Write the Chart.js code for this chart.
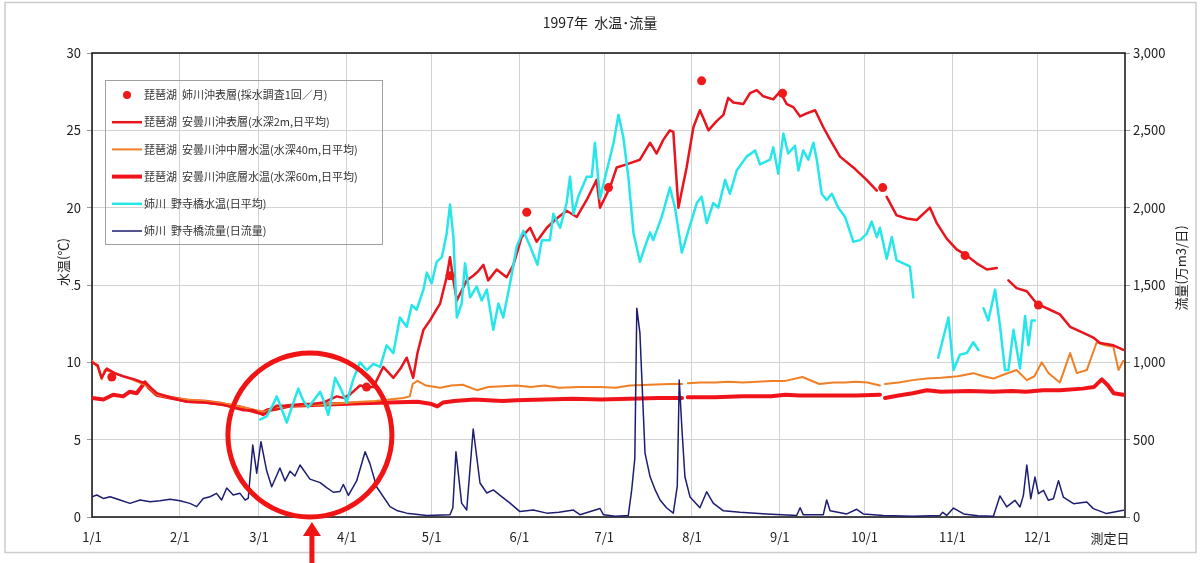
<!DOCTYPE html>
<html lang="ja">
<head>
<meta charset="utf-8">
<title>1997年 水温・流量</title>
<script src="https://cdn.jsdelivr.net/npm/chart.js@4.4.1/dist/chart.umd.min.js"></script>
<style>
  html, body { margin: 0; padding: 0; background: #fff; }
  #wrap { width: 1200px; height: 563px; }
</style>
</head>
<body>
<div id="wrap"><canvas id="waterChart" width="1200" height="563"></canvas></div>
<script>
// 1997年 水温・流量 (琵琶湖 / 姉川)
// x values are day of year, 0 = 1/1

const monthStarts = [0, 31, 59, 90, 120, 151, 181, 212, 243, 273, 304, 334];
const monthLabels = ['1/1', '2/1', '3/1', '4/1', '5/1', '6/1', '7/1', '8/1', '9/1', '10/1', '11/1', '12/1'];
const tempTicks = [0, 5, 10, 15, 20, 25, 30];
const flowTicks = [0, 500, 1000, 1500, 2000, 2500, 3000];

// 琵琶湖 姉川沖表層 (monthly sampling) [day, °C]
const anegawaOkiSurface = [
    [7, 9.05], [97, 8.4], [126.5, 15.6], [153.6, 19.7], [182.5, 21.3],
    [215.4, 28.2], [244, 27.4], [279.4, 21.3], [308.5, 16.9], [334.4, 13.7]
];

// 安曇川沖 水深2m [day, °C]
const adoSurface = [
    [0, 10.0], [2, 9.8], [3.4, 9.0], [5.2, 9.6], [8, 9.3], [11, 9.1], [15, 8.9], [19.3, 8.6], [22.9, 8.0],
    [28, 7.7], [33.5, 7.45], [40, 7.4], [46.4, 7.25], [53.5, 6.9], [57, 6.9], [60.5, 6.6], [63, 6.9],
    [65.3, 7.2], [70, 7.2], [74.7, 7.3], [78, 7.3], [81.7, 7.4], [86.5, 7.8], [88.8, 7.7], [91, 7.9],
    [94.7, 8.5], [97.1, 8.4], [99.4, 8.4], [102.9, 9.7], [106.5, 9.0], [109, 9.6], [111.2, 10.3],
    [113.5, 9.0], [115, 10.6], [117.1, 12.1], [119.4, 12.7], [121, 13.2], [123, 13.8], [125.3, 15.5],
    [126.5, 16.8], [127.7, 15.3], [128.9, 14.0], [130.5, 14.6], [132.4, 15.3], [134.7, 15.6],
    [136.5, 15.9], [138.3, 16.3], [140, 15.3], [143, 16.0], [146.5, 15.5], [148.9, 16.3], [151.8, 18.1],
    [154.8, 18.7], [157.1, 17.8], [160.7, 18.7], [164.2, 19.3], [167.7, 19.8], [171.3, 19.4],
    [174.8, 20.5], [178.3, 21.8], [179.5, 20.0], [183, 21.3], [185.4, 22.6], [188.9, 22.8],
    [193.6, 23.1], [197.2, 24.2], [199.5, 23.5], [201.9, 24.4], [204.2, 25.0], [205.4, 24.9],
    [207.2, 20.0], [210.1, 22.6], [212.5, 25.2], [214.8, 26.3], [216, 25.8], [217.8, 25.0],
    [220.7, 25.6], [223.1, 26.0], [224.8, 27.1], [226.6, 26.8], [230.1, 26.7], [232.5, 27.4],
    [234.9, 27.6], [237.2, 27.2], [240.7, 27.0], [243.1, 27.5], [245.5, 26.7], [247.8, 26.5],
    [250.2, 25.9], [252.5, 26.1], [255.5, 26.3], [258.4, 25.2], [260.8, 24.4], [264.3, 23.3],
    [269, 22.6], [273.7, 21.8], [277.3, 21.1], [279, null], [280.8, 20.7], [284.3, 19.5],
    [287.9, 19.3], [291.4, 19.2], [296.1, 20.0], [298.5, 19.0], [302, 18.0], [305.5, 17.3],
    [309.1, 16.9], [312.6, 16.4], [316.2, 16.0], [319.7, 16.1], [321.5, null], [323.8, 15.3],
    [326.7, 14.8], [330.3, 14.6], [333.8, 13.8], [338.5, 13.4], [342, 13.1], [345.6, 12.3],
    [350.3, 11.9], [353.8, 11.6], [356.2, 11.25], [360.9, 11.1], [364.4, 10.8]
];

// 安曇川沖 水深40m [day, °C]
const adoMiddle = [
    [0, 10.1], [2, 9.7], [3.4, 8.9], [4.5, 9.5], [8, 9.3], [14, 8.9], [19.3, 8.5], [23, 7.9], [28, 7.7],
    [33.5, 7.6], [40, 7.5], [46, 7.35], [53.5, 7.1], [58, 6.9], [61, 6.8], [65, 7.1], [70, 7.2],
    [80, 7.25], [88, 7.35], [95, 7.45], [100, 7.5], [105, 7.6], [110, 7.7], [112.3, 7.8], [113.3, 8.6],
    [115, 8.8], [118, 8.5], [123, 8.35], [127, 8.5], [131, 8.55], [136, 8.2], [140, 8.4], [145, 8.45],
    [150, 8.5], [155, 8.4], [160, 8.5], [165, 8.35], [172, 8.4], [179.5, 8.4], [185, 8.35], [190, 8.5],
    [197, 8.55], [204, 8.6], [208.5, 8.6], [209.5, null], [210.5, 8.65], [215, 8.7], [220, 8.7],
    [225, 8.75], [230, 8.7], [235, 8.75], [240, 8.8], [245, 8.8], [251, 9.05], [257, 8.6], [262, 8.7],
    [266, 8.7], [270, 8.75], [274, 8.7], [278.4, 8.5], [279.3, null], [280.2, 8.6], [285, 8.7],
    [290, 8.85], [294.9, 8.95], [300, 9.0], [306, 9.1], [311.4, 9.3], [315, 9.1], [318.5, 8.95],
    [322, 9.2], [326.7, 9.5], [330.3, 8.85], [333, 9.1], [335.6, 10.0], [338, 9.3], [342, 8.7],
    [345.6, 10.6], [348, 9.3], [351.5, 9.5], [355, 11.3], [358, 11.1], [360.9, 11.0], [362.7, 9.5],
    [364.4, 10.1]
];

// 安曇川沖 水深60m [day, °C]
const adoBottom = [
    [0, 7.7], [4, 7.6], [7.5, 7.9], [11, 7.8], [13.4, 8.1], [15.8, 8.0], [17, 8.3], [18.7, 8.7],
    [20.5, 8.3], [22.9, 7.9], [28, 7.7], [34, 7.5], [40, 7.45], [46, 7.3], [52, 7.1], [57, 6.85],
    [60, 6.7], [62, 6.9], [65, 7.0], [70, 7.2], [80, 7.25], [88, 7.3], [95, 7.35], [105, 7.4],
    [115, 7.45], [120, 7.3], [122, 7.15], [124, 7.4], [128, 7.5], [135, 7.6], [145, 7.5], [150, 7.55],
    [160, 7.6], [170, 7.65], [180, 7.6], [190, 7.65], [200, 7.7], [208.5, 7.7], [209.5, null],
    [210.5, 7.75], [220, 7.75], [230, 7.8], [240, 7.8], [245, 7.9], [250, 7.85], [260, 7.85],
    [270, 7.85], [278.4, 7.9], [279.3, null], [280.2, 7.7], [285, 7.85], [290, 8.0], [295, 8.2],
    [300, 8.1], [310, 8.15], [318.5, 8.1], [325, 8.15], [330, 8.1], [336, 8.2], [342, 8.2],
    [350, 8.3], [354, 8.4], [356.8, 8.9], [359, 8.5], [361, 8.0], [364.4, 7.9]
];

// 姉川 野寺橋 水温 [day, °C]
const nojiTemp = [
    [59.4, 6.3], [61.7, 6.5], [63.5, 7.1], [65.3, 7.8], [67, 7.0], [68.8, 6.1], [70.6, 7.1], [72.9, 8.3],
    [74.7, 7.5], [76.4, 7.1], [78.2, 7.5], [80.6, 8.1], [81.7, 7.6], [83.5, 6.6], [85.9, 9.0],
    [87.6, 8.4], [90, 7.4], [92.3, 8.9], [94.7, 10.0], [97.1, 9.5], [99.4, 9.9], [101.8, 9.7],
    [104.1, 11.1], [106.5, 10.6], [108.8, 12.9], [111.2, 12.3], [113, 13.7], [114.7, 13.4],
    [117.1, 14.7], [118.3, 15.8], [120, 15.1], [121.8, 16.5], [123.6, 16.8], [125.3, 18.3],
    [126.5, 20.2], [127.7, 18.1], [128.9, 12.9], [130.6, 13.8], [131.8, 16.4], [133.6, 14.2],
    [135.9, 14.9], [137.7, 14.0], [139.5, 14.7], [141.8, 12.1], [143.6, 13.8], [145.3, 12.9],
    [147.7, 15.1], [150.1, 17.5], [152.4, 18.5], [154.8, 17.5], [157.4, 16.3], [158.9, 17.9],
    [161.8, 17.9], [163, 19.6], [165.4, 18.7], [167.7, 20.3], [168.9, 22.0], [170.1, 19.6],
    [171.8, 20.7], [174.8, 22.0], [176.6, 22.0], [177.7, 24.2], [179.5, 20.6], [181.9, 22.4],
    [184.3, 24.2], [186, 26.0], [187.7, 24.6], [189.5, 22.0], [191.3, 18.4], [193.6, 16.5],
    [195.4, 17.5], [197.2, 18.4], [198.3, 17.9], [201.3, 19.4], [204.2, 21.3], [206, 20.0],
    [208.4, 17.1], [210.7, 18.5], [213.7, 20.3], [215.4, 20.7], [217.2, 19.0], [219.5, 20.3],
    [221.3, 20.0], [223.7, 21.8], [225.4, 20.9], [227.8, 22.4], [231.3, 23.3], [234.3, 23.7],
    [236, 22.8], [239.6, 23.1], [240.7, 23.9], [242.5, 22.2], [244.3, 24.8], [246, 23.5],
    [248.4, 24.0], [249.6, 22.4], [251.3, 23.7], [253.1, 23.1], [254.9, 24.2], [256.1, 23.1],
    [257.8, 20.9], [259.6, 20.5], [261.4, 20.9], [263.7, 20.0], [266.1, 19.4], [269, 17.8],
    [271.4, 17.9], [273.7, 18.3], [275.5, 19.1], [277.3, 18.1], [278.4, 18.7], [280.8, 16.7],
    [282.6, 18.1], [284.3, 16.6], [286.7, 16.4], [289, 16.2], [290.2, 14.2], [295, null],
    [299, 10.3], [302.6, 12.9], [304.4, 9.5], [306.7, 10.5], [309.1, 10.6], [311.4, 11.3],
    [313.2, 10.8], [314, null], [315, 13.5], [316.7, 12.7], [319.1, 14.7], [320.8, 12.4],
    [322.6, 9.5], [323.8, 9.5], [325.6, 12.1], [327.9, 9.6], [329.7, 13.0], [330.9, 11.1],
    [332, 12.7], [333.2, 12.7]
];

// 姉川 野寺橋 流量 [day, 万m3/日]
const nojiFlow = [
    [0, 131], [1.7, 142], [4, 120], [6.4, 131], [9.9, 110], [13.4, 88], [17, 110], [20.5, 99], [24, 105],
    [27.6, 115], [31.1, 105], [34.6, 88], [37, 67], [39.3, 120], [41.7, 131], [44, 153], [45.8, 110],
    [47.6, 187], [49.9, 142], [52.3, 153], [54.1, 110], [55.2, 120], [56.8, 465], [58.2, 283],
    [59.7, 487], [61.7, 300], [63.5, 196], [66.4, 317], [68.2, 233], [70, 296], [71.7, 265],
    [73.5, 336], [77, 245], [80.6, 222], [82.9, 190], [85.3, 160], [87.6, 165], [88.8, 210],
    [90.6, 140], [93.5, 233], [96.5, 422], [98.2, 345], [100.6, 194], [105.3, 67], [108, 40],
    [111.2, 25], [118.3, 10], [126.5, 15], [127.5, 60], [128.6, 422], [130.6, 90], [132.4, 45],
    [134.7, 569], [137.1, 220], [139.5, 155], [141.8, 175], [144.2, 140], [147.7, 90], [151.2, 35],
    [155.9, 45], [160.7, 25], [165, 30], [170.1, 45], [172.4, 15], [179.5, 55], [180.7, 15], [185, 5],
    [189.5, 10], [190.7, 175], [191.8, 380], [192.5, 1350], [193.6, 1190], [195.4, 413],
    [197.2, 260], [199, 175], [200.7, 110], [203, 60], [205.4, 25], [206.8, 200], [207.5, 885],
    [208.4, 583], [209.5, 260], [211.3, 130], [214.8, 60], [217.2, 163], [219.5, 90], [223.1, 40],
    [229, 30], [238.4, 20], [249, 10], [250.2, 60], [251.3, 15], [258.4, 15], [259.6, 110],
    [260.8, 40], [266.7, 20], [270.2, 50], [272.5, 20], [279.6, 10], [290, 5], [299.6, 10],
    [300.6, 30], [302, 10], [304.4, 58], [308, 20], [313, 8], [318.5, 5], [320.8, 136], [323.2, 65],
    [326.1, 108], [327.9, 65], [329.1, 140], [330.3, 336], [331.7, 118], [333.2, 258], [334.4, 151],
    [336.2, 172], [337.9, 108], [339.7, 118], [341.5, 235], [343.2, 129], [346.8, 86], [351.5, 97],
    [353.8, 54], [358.5, 22], [364.4, 43]
];

// red circle note around March (center in data units)
const noteCenter = { day: 77, temp: 5.3 };

const FONT = "'Noto Sans CJK JP', 'Noto Sans', sans-serif";

function toPoints(pairs) {
    return pairs.map(p => ({ x: p[0], y: p[1] }));
}

function lineSet(label, pairs, color, width, axis) {
    return {
        label: label,
        data: toPoints(pairs),
        borderColor: color,
        backgroundColor: color,
        borderWidth: width,
        pointRadius: 0,
        tension: 0,
        spanGaps: false,
        borderJoinStyle: 'round',
        borderCapStyle: 'round',
        yAxisID: axis || 'y'
    };
}

// draws frame, titles, legend box and the red note
const decorPlugin = {
    id: 'decor',
    beforeDraw(chart) {
        const ctx = chart.ctx;
        ctx.save();
        ctx.fillStyle = '#fff';
        ctx.fillRect(0, 0, chart.width, chart.height);
        ctx.strokeStyle = '#cccccc';
        ctx.lineWidth = 1.5;
        ctx.strokeRect(5, 2.5, 1191, 550);
        ctx.restore();
    },
    beforeDatasetsDraw(chart) {
        const a = chart.chartArea;
        const ctx = chart.ctx;
        ctx.save();
        ctx.strokeStyle = '#111';
        ctx.lineWidth = 1.5;
        ctx.strokeRect(a.left, a.top, a.right - a.left, a.bottom - a.top);
        ctx.restore();
    },
    afterDraw(chart) {
        const ctx = chart.ctx;
        const a = chart.chartArea;
        ctx.save();

        // title
        ctx.fillStyle = '#222';
        ctx.font = '14px ' + FONT;
        ctx.textAlign = 'center';
        ctx.textBaseline = 'middle';
        ctx.fillText('1997年  水温･流量', 600, 23);

        // left axis title (white box hides part of the "15")
        ctx.font = '13px ' + FONT;
        const leftTitle = '水温(℃)';
        const lw = ctx.measureText(leftTitle).width;
        ctx.save();
        ctx.translate(63, 262);
        ctx.rotate(-Math.PI / 2);
        ctx.fillStyle = '#fff';
        ctx.fillRect(-lw / 2 - 4, -9, lw + 8, 18);
        ctx.fillStyle = '#222';
        ctx.fillText(leftTitle, 0, 0);
        ctx.restore();

        // right axis title
        ctx.save();
        ctx.translate(1181, 268);
        ctx.rotate(-Math.PI / 2);
        ctx.fillStyle = '#222';
        ctx.fillText('流量(万m3/日)', 0, 0);
        ctx.restore();

        // x axis name
        ctx.fillStyle = '#222';
        ctx.fillText('測定日', 1110, 538);

        // legend
        const lx = 105, ly = 80, lwBox = 277, lh = 164;
        ctx.strokeStyle = '#a0a0a0';
        ctx.lineWidth = 1;
        ctx.strokeRect(lx + 0.5, ly + 0.5, lwBox, lh);
        ctx.font = '11px ' + FONT;
        ctx.textAlign = 'left';
        chart.data.datasets.forEach((ds, i) => {
            const yy = ly + 15 + i * 27.2;
            if (ds.showLine === false) {
                ctx.fillStyle = ds.pointBackgroundColor;
                ctx.beginPath();
                ctx.arc(127, yy, 4, 0, Math.PI * 2);
                ctx.fill();
            } else {
                ctx.strokeStyle = ds.borderColor;
                ctx.lineWidth = ds.borderWidth;
                ctx.beginPath();
                ctx.moveTo(112, yy);
                ctx.lineTo(142, yy);
                ctx.stroke();
            }
            ctx.fillStyle = '#333';
            ctx.fillText(ds.label, 144, yy);
        });

        // red circle + arrow
        const cx = chart.scales.x.getPixelForValue(noteCenter.day);
        const cy = chart.scales.y.getPixelForValue(noteCenter.temp);
        ctx.strokeStyle = '#f01414';
        ctx.lineWidth = 5;
        ctx.beginPath();
        ctx.arc(cx, cy, 82, 0, Math.PI * 2);
        ctx.stroke();

        ctx.fillStyle = '#f01414';
        ctx.beginPath();
        ctx.moveTo(cx + 2, a.bottom + 5);
        ctx.lineTo(cx + 11, a.bottom + 19);
        ctx.lineTo(cx - 7, a.bottom + 19);
        ctx.closePath();
        ctx.fill();
        ctx.fillRect(cx - 0.5, a.bottom + 18, 5, chart.height - a.bottom - 18);

        ctx.restore();
    }
};

Chart.defaults.font.family = FONT;

const datasets = [
    {
        label: '琵琶湖  姉川沖表層(採水調査1回／月)',
        data: toPoints(anegawaOkiSurface),
        showLine: false,
        pointRadius: 4.5,
        pointBackgroundColor: '#ee1a1a',
        pointBorderWidth: 0,
        borderColor: '#ee1a1a',
        yAxisID: 'y',
        order: 0
    },
    Object.assign(lineSet('琵琶湖  安曇川沖表層(水深2m,日平均)', adoSurface, '#e8141e', 2.5), { order: 3 }),
    Object.assign(lineSet('琵琶湖  安曇川沖中層水温(水深40m,日平均)', adoMiddle, '#f07f25', 2), { order: 4 }),
    Object.assign(lineSet('琵琶湖  安曇川沖底層水温(水深60m,日平均)', adoBottom, '#f0141a', 4), { order: 5 }),
    Object.assign(lineSet('姉川  野寺橋水温(日平均)', nojiTemp, '#27e6ea', 2.5), { order: 2 }),
    Object.assign(lineSet('姉川  野寺橋流量(日流量)', nojiFlow, '#1d1d72', 1.5, 'y2'), { order: 1 })
];

new Chart(document.getElementById('waterChart'), {
    type: 'line',
    data: { datasets: datasets },
    plugins: [decorPlugin],
    options: {
        responsive: false,
        animation: false,
        events: [],
        layout: { padding: { top: 53, left: 0, right: 0, bottom: 16 } },
        plugins: {
            legend: { display: false },
            title: { display: false },
            tooltip: { enabled: false }
        },
        scales: {
            x: {
                type: 'linear',
                min: 0,
                max: 365,
                afterBuildTicks: axis => { axis.ticks = monthStarts.map(v => ({ value: v })); },
                afterFit: scale => { scale.height = 30; },
                ticks: {
                    autoSkip: false,
                    maxRotation: 0,
                    padding: 12,
                    color: '#222',
                    font: { size: 13 },
                    callback: v => monthLabels[monthStarts.indexOf(v)]
                },
                grid: { color: '#d2d2d2', lineWidth: 1, drawTicks: false },
                border: { display: false }
            },
            y: {
                position: 'left',
                min: 0,
                max: 30,
                afterBuildTicks: axis => { axis.ticks = tempTicks.map(v => ({ value: v })); },
                afterFit: scale => { scale.width = 92; },
                ticks: { padding: 6, color: '#222', font: { size: 13 } },
                grid: { color: '#d2d2d2', lineWidth: 1, tickLength: 5, tickColor: '#999' },
                border: { display: false }
            },
            y2: {
                position: 'right',
                min: 0,
                max: 3000,
                afterBuildTicks: axis => { axis.ticks = flowTicks.map(v => ({ value: v })); },
                afterFit: scale => { scale.width = 75; },
                ticks: {
                    padding: 3,
                    color: '#222',
                    font: { size: 13 },
                    callback: v => v.toLocaleString('en-US')
                },
                grid: { drawOnChartArea: false, tickLength: 5, tickColor: '#999' },
                border: { display: false }
            }
        }
    }
});
</script>
</body>
</html>
